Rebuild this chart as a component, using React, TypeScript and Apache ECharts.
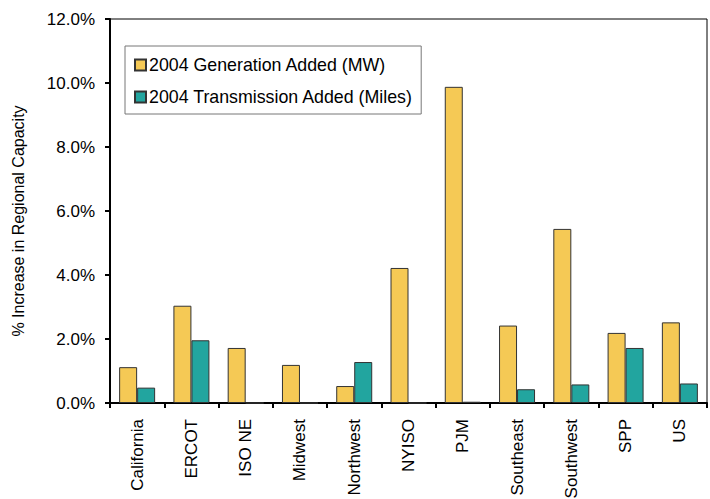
import React, { useEffect, useRef } from "react";
import * as echarts from "echarts";

const categories = ["California", "ERCOT", "ISO NE", "Midwest", "Northwest", "NYISO", "PJM", "Southeast", "Southwest", "SPP", "US"];
const generationAdded = [1.12, 3.04, 1.72, 1.19, 0.53, 4.22, 9.88, 2.42, 5.44, 2.19, 2.52];
const transmissionAdded = [0.48, 1.96, 0, 0, 1.28, 0, 0.04, 0.43, 0.58, 1.72, 0.61];
const seriesNames = ["2004 Generation Added (MW)", "2004 Transmission Added (Miles)"];

export default function App() {
  const ref = useRef<HTMLDivElement>(null);
  useEffect(() => {
    if (!ref.current) return;
    const chart = echarts.init(ref.current, null, { renderer: "svg" });
    const font = "Liberation Sans, Arial, sans-serif";
    chart.setOption({
      animation: false,
      backgroundColor: "#ffffff",
      textStyle: { fontFamily: font },
      grid: {
        left: 110, top: 19, right: 3, bottom: 96,
        containLabel: false, outerBoundsMode: "none",
        show: true, borderColor: "#000", borderWidth: 1, backgroundColor: "transparent",
      },
      legend: {
        orient: "vertical",
        left: 125,
        top: 46,
        padding: [10, 8, 8, 9],
        itemGap: 14,
        itemWidth: 11,
        itemHeight: 11,
        borderColor: "#777",
        borderWidth: 1,
        backgroundColor: "#fff",
        textStyle: { fontSize: 17.8, color: "#000", fontFamily: font, padding: [0, 0, 0, -2] },
        icon: "rect",
        data: seriesNames,
      },
      xAxis: {
        type: "category",
        data: categories,
        axisLine: { lineStyle: { color: "#000", width: 2 } },
        axisTick: { show: true, length: 5, inside: false, lineStyle: { color: "#000", width: 2 } },
        axisLabel: { rotate: 90, fontSize: 17, color: "#000", fontFamily: font, margin: 16 },
      },
      yAxis: {
        type: "value",
        min: 0,
        max: 12,
        interval: 2,
        name: "% Increase in Regional Capacity",
        nameLocation: "middle",
        nameGap: 84,
        nameTextStyle: { fontSize: 16, color: "#000", fontFamily: font, padding: [0, 20, 0, 0] },
        splitLine: { show: false },
        axisLine: { show: true, lineStyle: { color: "#000", width: 2 } },
        axisTick: { show: true, length: 5, lineStyle: { color: "#000", width: 2 } },
        axisLabel: { fontSize: 17, color: "#000", fontFamily: font, margin: 15, formatter: (v: number) => v.toFixed(1) + "%" },
      },
      series: [
        {
          name: seriesNames[0],
          type: "bar",
          data: generationAdded,
          barWidth: 18,
          barGap: "0%",
          itemStyle: { color: "#F5C955", borderColor: "#333", borderWidth: 1 },
        },
        {
          name: seriesNames[1],
          type: "bar",
          data: transmissionAdded,
          barWidth: 18,
          itemStyle: { color: "#22A59F", borderColor: "#333", borderWidth: 1 },
        },
      ],
    });
    return () => chart.dispose();
  }, []);
  return <div ref={ref} style={{ width: 710, height: 499, position: "absolute", left: 0, top: 0 }} />;
}
